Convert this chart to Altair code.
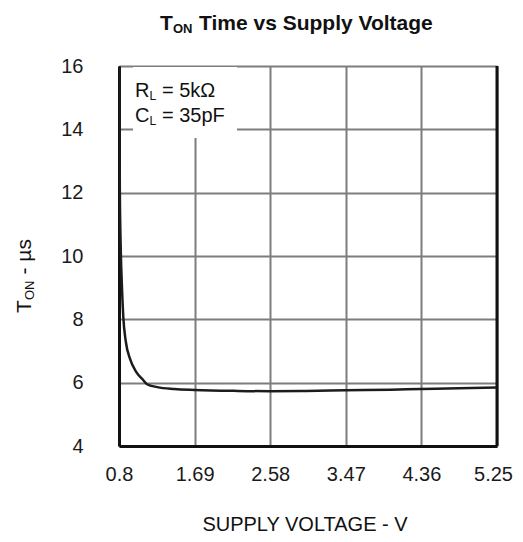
import altair as alt
import pandas as pd

# Data
voltage = [0.80, 0.81, 0.82, 0.835, 0.85, 0.88, 0.93, 1.00, 1.08, 1.13, 1.25, 1.45,
           1.69, 2.20, 2.58, 3.00, 3.47, 4.00, 4.36, 4.80, 5.25]
t_on = [17.0, 12.0, 10.3, 9.0, 8.1, 7.3, 6.75, 6.35, 6.10, 5.95, 5.86, 5.80,
        5.77, 5.74, 5.73, 5.74, 5.76, 5.78, 5.80, 5.82, 5.85]
x_ticks = [0.8, 1.69, 2.58, 3.47, 4.36, 5.25]
y_ticks = [4, 6, 8, 10, 12, 14, 16]

FONT = "Liberation Sans"
W, H = 378, 380

df = pd.DataFrame({"v": voltage, "t": t_on})
one = pd.DataFrame({"a": [0]})
edge = pd.DataFrame({"v": [x_ticks[-1]]})

x_enc = alt.X("v:Q", scale=alt.Scale(domain=[x_ticks[0], x_ticks[-1]], nice=False, zero=False),
              axis=alt.Axis(values=x_ticks, format=".3~g", title=None, ticks=False,
                            labelPadding=18, labelFontSize=20, labelFont=FONT,
                            labelColor="#1a1a1a", gridColor="#7d7d7d", gridWidth=2,
                            domainColor="#111", domainWidth=3, labelFlush=False,
                            labelOffset={"condition": {"test": "datum.value > 5", "value": -4},
                                         "value": 0}))
y_enc = alt.Y("t:Q", scale=alt.Scale(domain=[4, 16], nice=False, zero=False),
              axis=alt.Axis(values=y_ticks, title=None, ticks=False,
                            labelPadding=36, labelFontSize=20, labelFont=FONT,
                            labelColor="#1a1a1a", gridColor="#7d7d7d", gridWidth=2,
                            domainColor="#111", domainWidth=3))

curve = alt.Chart(df).mark_line(color="#1c1c1c", strokeWidth=2.5, interpolate="monotone",
                                clip=True).encode(x=x_enc, y=y_enc)

right_border = alt.Chart(edge).mark_rule(color="#111", strokeWidth=3).encode(x=alt.X("v:Q"))

box = alt.Chart(one).mark_rect(color="white").encode(
    x=alt.value(14), x2=alt.value(118), y=alt.value(1), y2=alt.value(72))


def txt(text, x, y, size=20, bold=False, angle=0, align="left"):
    props = dict(text=text, font=FONT, fontSize=size, color="#111", align=align,
                 baseline="alphabetic")
    if bold:
        props["fontWeight"] = "bold"
    if angle:
        props["angle"] = angle
    return alt.Chart(one).mark_text(**props).encode(x=alt.value(x), y=alt.value(y))


texts = [
    # legend box text
    txt("R", 16, 31), txt("L", 30.5, 34, size=12), txt("= 5k\u03a9", 43, 31),
    txt("C", 16, 56), txt("L", 30.5, 59, size=12), txt("= 35pF", 43, 56),
    # title
    txt("T", 41, -36, size=21, bold=True), txt("ON", 54, -33, size=13, bold=True),
    txt("Time vs Supply Voltage", 80, -36, size=21, bold=True),
    # y title (rotated)
    txt("T", -88, 247, size=21, angle=270), txt("ON", -85, 234, size=13, angle=270),
    txt("- \u00b5s", -88, 208.5, size=21, angle=270),
    # x title
    txt("SUPPLY VOLTAGE - V", 186, 465, size=20, align="center"),
]

chart = alt.layer(curve, right_border, box, *texts).properties(
    width=W, height=H,
    autosize=alt.AutoSizeParams(type="none"),
    padding={"left": 111, "top": 58, "right": 18, "bottom": 88},
    background="white",
).configure_view(stroke=None)

chart.save("out.html", embed_options={"renderer": "svg", "actions": False})
